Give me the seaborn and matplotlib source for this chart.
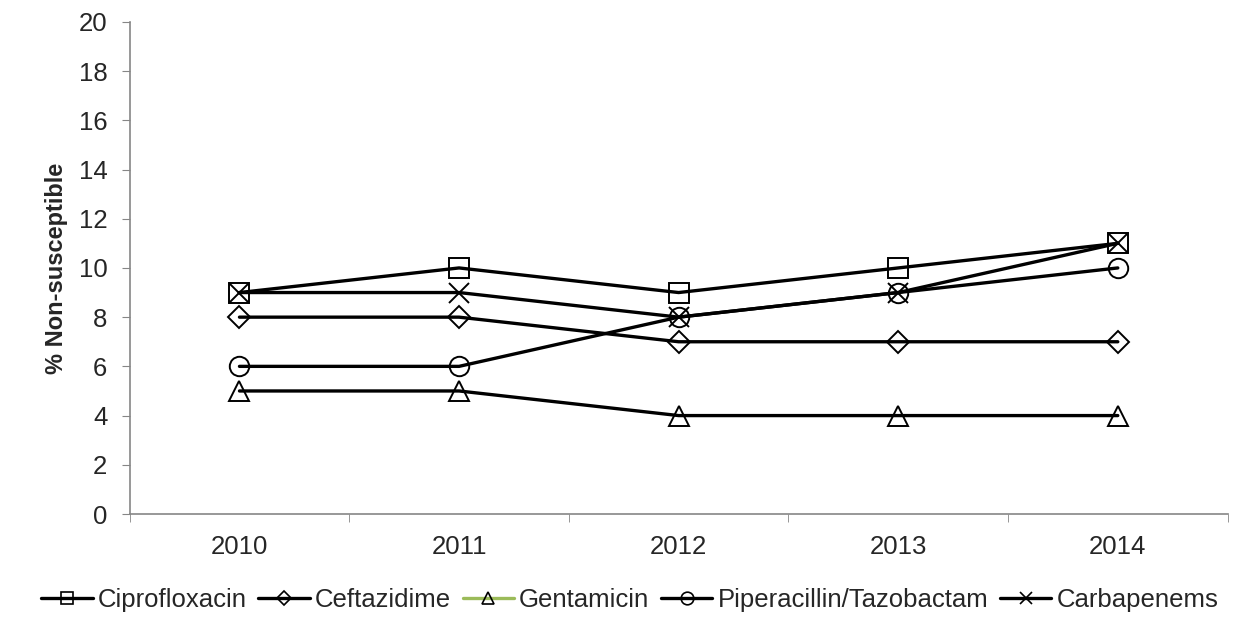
import matplotlib
matplotlib.use("Agg")
import matplotlib.pyplot as plt
from matplotlib.lines import Line2D
import seaborn as sns
import pandas as pd

years = ["2010", "2011", "2012", "2013", "2014"]
ciprofloxacin = [9, 10, 9, 10, 11]
ceftazidime = [8, 8, 7, 7, 7]
gentamicin = [5, 5, 4, 4, 4]
piperacillin = [6, 6, 8, 9, 10]
carbapenems = [9, 9, 8, 9, 11]

series = [
    ("Ciprofloxacin", ciprofloxacin, "s", 14, "black"),
    ("Ceftazidime", ceftazidime, "D", 11, "black"),
    ("Gentamicin", gentamicin, "^", 14, "#9bbb59"),
    ("Piperacillin/Tazobactam", piperacillin, "o", 14, "black"),
    ("Carbapenems", carbapenems, "x", 14, "black"),
]

sns.set_style("white")
plt.rcParams['font.family'] = ['Liberation Sans', 'DejaVu Sans']

fig = plt.figure(figsize=(12.35, 6.25), dpi=100)
ax = fig.add_axes([0.105, 0.1776, 0.889, 0.7874])

xs = list(range(len(years)))
handles = []
for name, vals, mk, ms, legcol in series:
    df = pd.DataFrame({"x": xs, "y": vals})
    sns.lineplot(data=df, x="x", y="y", ax=ax, color="black", lw=2.4,
                 marker=mk, ms=ms, mfc="none", mec="black", mew=1.4, zorder=3)
    handles.append(Line2D([0], [0], color=legcol, lw=2.4, marker=mk, ms=ms * 0.65,
                          mfc="none", mec="black", mew=1.2, label=name))

ax.set_xlim(-0.5, 4.5)
ax.set_ylim(0, 20)
ax.set_yticks(range(0, 21, 2))
ax.set_xticks(xs)
ax.set_xticklabels(years)
ax.set_xticks([i - 0.5 for i in range(6)], minor=True)
ax.tick_params(axis="x", which="major", length=0, labelsize=18.5, pad=15)
ax.tick_params(axis="x", which="minor", length=6, color="#868686", direction="out", bottom=True)
ax.tick_params(axis="y", length=6, color="#868686", direction="out", left=True, labelsize=18.5, pad=10)
ax.set_xlabel("")
ax.set_ylabel("% Non-susceptible", fontsize=17, fontweight="bold", labelpad=8)
for s in ["top", "right"]:
    ax.spines[s].set_visible(False)
for s in ["left", "bottom"]:
    ax.spines[s].set_color("#868686")
    ax.spines[s].set_linewidth(1.2)
ax.grid(False)

fig.legend(handles=handles, loc="center", bbox_to_anchor=(0.51, 0.04), ncol=5, frameon=False,
           fontsize=18.5, handlelength=2.0, handletextpad=0.2, columnspacing=0.45)

fig.savefig("out.png", dpi=100)
